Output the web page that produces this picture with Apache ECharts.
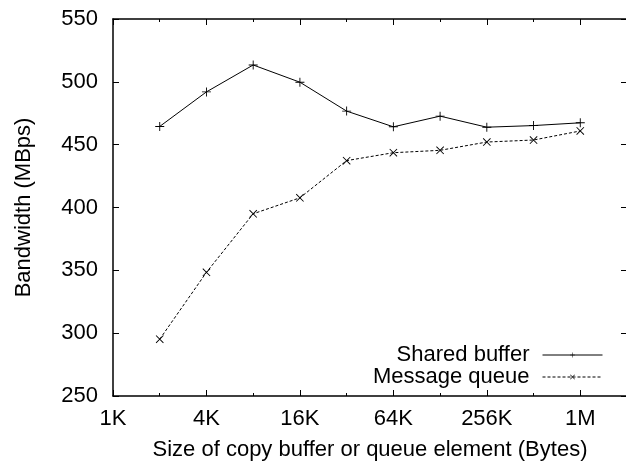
<!DOCTYPE html>
<html><head><meta charset="utf-8">
<script src="https://cdn.jsdelivr.net/npm/echarts@6/dist/echarts.min.js"></script>
<style>html,body{margin:0;padding:0;background:#fff}#c{width:626px;height:461px}</style>
</head><body><div id="c"></div>
<script>
// x values are log2(bytes): 11 = 2K ... 20 = 1M
const sizeExponents = [11, 12, 13, 14, 15, 16, 17, 18, 19, 20];
const sharedBuffer = [464.5, 492, 513.4, 499.7, 476.7, 464.2, 472.7, 463.9, 465.2, 467.4];
const messageQueue = [295.2, 348.4, 395, 407.7, 437.3, 443.6, 445.5, 452.1, 453.7, 460.9];
const xTickLabels = {10: '1K', 12: '4K', 14: '16K', 16: '64K', 18: '256K', 20: '1M'};
const seriesNames = ['Shared buffer', 'Message queue'];

const FONT = 'Liberation Sans, Arial, Helvetica, sans-serif';
const plusPath = 'path://M4.5,0h1v10h-1z M0,4.5h10v1h-10z';
const crossPath = 'path://M0,0.8L0.8,0L10,9.2L9.2,10Z M9.2,0L10,0.8L0.8,10L0,9.2Z';

const chart = echarts.init(document.getElementById('c'), null, {renderer: 'canvas'});
const X_MIN = 10, X_MAX = 21;
const commonX = {type: 'value', min: X_MIN, max: X_MAX, gridIndex: 0, splitLine: {show: false}};
chart.setOption({
  animation: false,
  backgroundColor: '#fff',
  grid: {left: 113, right: -1, top: 19, bottom: 65, show: false, containLabel: false, outerBoundsMode: 'none'},
  legend: {
    orient: 'vertical', right: 23, top: 344, align: 'right', padding: 0,
    itemWidth: 60, itemHeight: 6, itemGap: 0,
    lineStyle: {width: 1},
    textStyle: {fontFamily: FONT, fontSize: 22, color: '#000', lineHeight: 22, padding: [0, 8, 0, 0]},
    data: seriesNames
  },
  xAxis: [
    Object.assign({}, commonX, {
      position: 'bottom', interval: 2,
      name: 'Size of copy buffer or queue element (Bytes)', nameLocation: 'middle', nameGap: 43,
      nameTextStyle: {fontFamily: FONT, fontSize: 22, color: '#000'},
      axisLine: {show: true, onZero: false, lineStyle: {color: '#000', width: 1.5}},
      axisTick: {show: true, inside: true, length: 6, lineStyle: {color: '#000', width: 1}},
      axisLabel: {fontFamily: FONT, fontSize: 22, color: '#000', margin: 12,
        formatter: v => xTickLabels[v] !== undefined ? xTickLabels[v] : ''}
    }),
    Object.assign({}, commonX, {
      position: 'bottom', interval: 1,
      axisLine: {show: false}, axisLabel: {show: false},
      axisTick: {show: true, inside: true, length: 3, lineStyle: {color: '#000', width: 1}}
    }),
    Object.assign({}, commonX, {
      position: 'top', interval: 2,
      axisLine: {show: true, onZero: false, lineStyle: {color: '#000', width: 1.5}},
      axisLabel: {show: false},
      axisTick: {show: true, inside: true, length: 6, lineStyle: {color: '#000', width: 1}}
    }),
    Object.assign({}, commonX, {
      position: 'top', interval: 1,
      axisLine: {show: false}, axisLabel: {show: false},
      axisTick: {show: true, inside: true, length: 3, lineStyle: {color: '#000', width: 1}}
    })
  ],
  yAxis: [
    {
      type: 'value', min: 250, max: 550, interval: 50, position: 'left',
      name: 'Bandwidth (MBps)', nameLocation: 'middle', nameGap: 78,
      nameTextStyle: {fontFamily: FONT, fontSize: 22, color: '#000'},
      splitLine: {show: false},
      axisLine: {show: true, onZero: false, lineStyle: {color: '#000', width: 1.5}},
      axisTick: {show: true, inside: true, length: 6, lineStyle: {color: '#000', width: 1}},
      axisLabel: {fontFamily: FONT, fontSize: 22, color: '#000', margin: 15}
    },
    {
      type: 'value', min: 250, max: 550, interval: 50, position: 'right',
      splitLine: {show: false},
      axisLine: {show: true, onZero: false, lineStyle: {color: '#000', width: 1.5}},
      axisTick: {show: true, inside: true, length: 6, lineStyle: {color: '#000', width: 1}},
      axisLabel: {show: false}
    }
  ],
  series: [
    {
      name: seriesNames[0], type: 'line', xAxisIndex: 0, yAxisIndex: 0,
      data: sizeExponents.map((x, i) => [x, sharedBuffer[i]]),
      symbol: plusPath, symbolSize: 9, showAllSymbol: true,
      lineStyle: {color: '#000', width: 1},
      itemStyle: {color: '#000', borderWidth: 0}
    },
    {
      name: seriesNames[1], type: 'line', xAxisIndex: 0, yAxisIndex: 0,
      data: sizeExponents.map((x, i) => [x, messageQueue[i]]),
      symbol: crossPath, symbolSize: 8, showAllSymbol: true,
      lineStyle: {color: '#000', width: 1, type: [3, 2]},
      itemStyle: {color: '#000', borderWidth: 0}
    }
  ]
});
</script></body></html>
